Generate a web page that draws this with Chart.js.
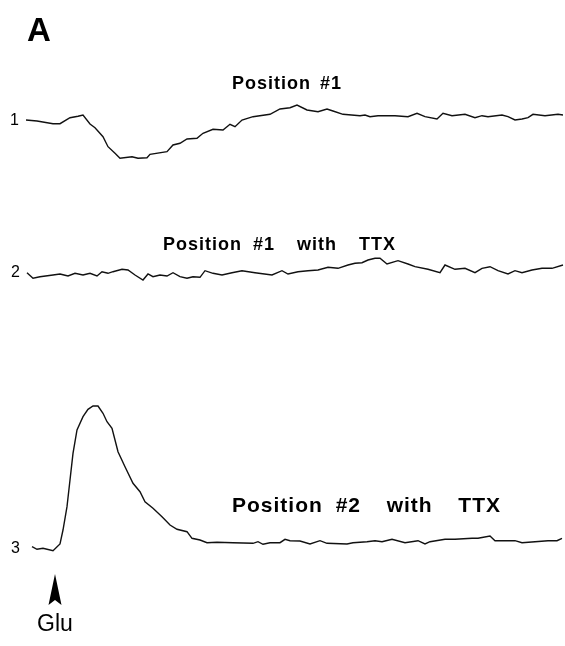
<!DOCTYPE html>
<html><head><meta charset="utf-8">
<script src="https://cdn.jsdelivr.net/npm/chart.js@4.4.1/dist/chart.umd.min.js"></script>
<style>
html,body{margin:0;padding:0;background:#fff;}
#wrap{position:relative;width:565px;height:646px;overflow:hidden;background:#fff;}
canvas{position:absolute;left:0;top:0;}
.t{position:absolute;font-family:"Liberation Sans",Arial,sans-serif;color:#000;line-height:1;white-space:pre;}
</style></head><body>
<div id="wrap"><canvas id="c" width="565" height="646"></canvas></div>
<script>
// ---- data (time in arbitrary units, amplitude relative to each baseline) ----
const panelLabel = 'A';
const traceLabels = ['1', '2', '3'];
const traceTitles = ['Position #1', 'Position #1  with  TTX', 'Position #2  with  TTX'];
const stimulusLabel = 'Glu';
const stimulusTime = [30];

const t1 = [1,12,28,35,45,53,58,65,70,78,83,90,95,107,113,122,125,142,148,155,162,172,175,178,188,198,205,210,217,228,245,255,265,272,282,293,302,308,318,335,340,345,353,370,383,392,400,412,418,427,440,450,457,463,477,483,490,497,503,508,520,533,538];
const v1 = [0,-1,-3.7,-3.7,2.3,3.7,5,-4,-7.7,-16.7,-26.7,-33.3,-38.3,-36.7,-38.3,-37.7,-34.3,-31.7,-25,-23.3,-19,-18.3,-15.7,-13.3,-9.3,-10,-4.3,-6.7,0,3.3,5.7,11,12.3,15,10,8.3,11,9,5.7,4.3,5,3.3,4.3,4.3,3.3,6.7,3.3,1,6.7,4.3,5.7,2.3,4.3,3.3,5,3.3,0,1,2.3,5.7,4.3,5.7,5];

const t2 = [2,8,15,28,35,43,50,58,65,72,77,83,88,97,103,110,118,123,128,135,142,148,155,162,168,175,180,188,197,207,217,230,247,257,263,273,283,293,303,313,323,330,337,343,350,355,362,373,383,390,403,415,420,430,440,450,457,465,473,483,490,497,507,517,527,538];
const v2 = [2.3,-3.3,-1.7,0,1,-1,1.7,0,1.7,-1,3.3,1.7,3.3,5.7,5,0,-5,1,-1.7,0,-1,2.3,-1.7,-3.3,-1.7,-2.3,4.3,1.7,0,2.3,4.3,2.3,0,4.3,1,3.3,4.3,5,7.7,6.7,10,11.7,12.3,15,16.7,16.7,11,14.3,11,8.3,5.7,2.3,10,5.7,6.7,2.3,6.7,8.3,4.3,1,4.3,2.3,5,6.7,6.7,10];

const t3 = [7,12,18,28,35,38,42,45,48,52,58,63,68,73,78,82,87,90,93,100,108,115,120,128,137,145,152,162,167,175,182,192,208,228,233,238,245,255,260,265,275,285,295,302,322,328,342,350,357,367,380,393,400,405,420,430,447,453,465,470,490,497,510,523,532,537];
const v3 = [1.3,-1.3,-0.3,-2.7,4,18,41.3,68,94.7,118,131.3,138.7,142,142,134.7,126.3,119.7,108,96.3,81.3,64.7,56.3,46.3,39.7,31.3,23,18.7,16.3,9.7,8,5.3,5.7,5.3,4.7,6.3,3.7,5.3,5.3,8.7,7.3,7,4,7.3,4.7,4,5.3,6.3,7.3,6.3,8.7,5.3,7.3,4,6.3,8.7,8.7,9.7,9.7,12,7.3,7.3,5.3,6.3,7.3,7.3,9.7];

// ---- layout (positions / styles only) ----
const textLayout = [
  {text: panelLabel, left: 27, top: 13, size: 33, weight: 'bold', ls: 0, ws: 0},
  {text: traceTitles[0], left: 232, top: 74, size: 18, weight: 'bold', ls: 1, ws: 3},
  {text: traceTitles[1], left: 163, top: 235, size: 18, weight: 'bold', ls: 1, ws: 5},
  {text: traceTitles[2], left: 232, top: 494, size: 21, weight: 'bold', ls: 1, ws: 6},
  {text: traceLabels[0], left: 10, top: 112, size: 16, weight: 'normal', ls: 0, ws: 0},
  {text: traceLabels[1], left: 11, top: 264, size: 16, weight: 'normal', ls: 0, ws: 0},
  {text: traceLabels[2], left: 11, top: 540, size: 16, weight: 'normal', ls: 0, ws: 0},
  {text: stimulusLabel, left: 37, top: 612, size: 23, weight: 'normal', ls: 0, ws: 0}
];
const wrap = document.getElementById('wrap');
textLayout.forEach(o => {
  const d = document.createElement('div');
  d.className = 't';
  d.textContent = o.text;
  d.style.left = o.left + 'px';
  d.style.top = o.top + 'px';
  d.style.fontSize = o.size + 'px';
  d.style.fontWeight = o.weight;
  d.style.letterSpacing = o.ls + 'px';
  d.style.wordSpacing = o.ws + 'px';
  wrap.appendChild(d);
});

const pts = (t, v) => t.map((x, i) => ({x: x, y: v[i]}));
const traceStyle = {borderColor: '#111', borderWidth: 1.4, pointRadius: 0, tension: 0, fill: false, clip: false};

const arrowPlugin = {
  id: 'gluArrow',
  afterDatasetsDraw(chart) {
    const x = chart.scales.x.getPixelForValue(stimulusTime[0]);
    const g = chart.ctx;
    g.save();
    g.fillStyle = '#000';
    g.beginPath();
    g.moveTo(x, 574);
    g.lineTo(x + 6.5, 605);
    g.lineTo(x, 600);
    g.lineTo(x - 6.5, 605);
    g.closePath();
    g.fill();
    g.restore();
  }
};

new Chart(document.getElementById('c').getContext('2d'), {
  type: 'line',
  data: {
    datasets: [
      Object.assign({label: traceTitles[0], data: pts(t1, v1), yAxisID: 'y1'}, traceStyle),
      Object.assign({label: traceTitles[1], data: pts(t2, v2), yAxisID: 'y2'}, traceStyle),
      Object.assign({label: traceTitles[2], data: pts(t3, v3), yAxisID: 'y3'}, traceStyle)
    ]
  },
  options: {
    responsive: false,
    animation: false,
    events: [],
    layout: {padding: {left: 25, right: 0, top: 0, bottom: 0}},
    plugins: {legend: {display: false}, tooltip: {enabled: false}, title: {display: false}},
    scales: {
      x: {type: 'linear', min: 0, max: 540, display: false},
      y1: {type: 'linear', min: -526, max: 120, display: false},
      y2: {type: 'linear', min: -371, max: 275, display: false},
      y3: {type: 'linear', min: -98, max: 548, display: false}
    }
  },
  plugins: [arrowPlugin]
});
</script>
</body></html>
